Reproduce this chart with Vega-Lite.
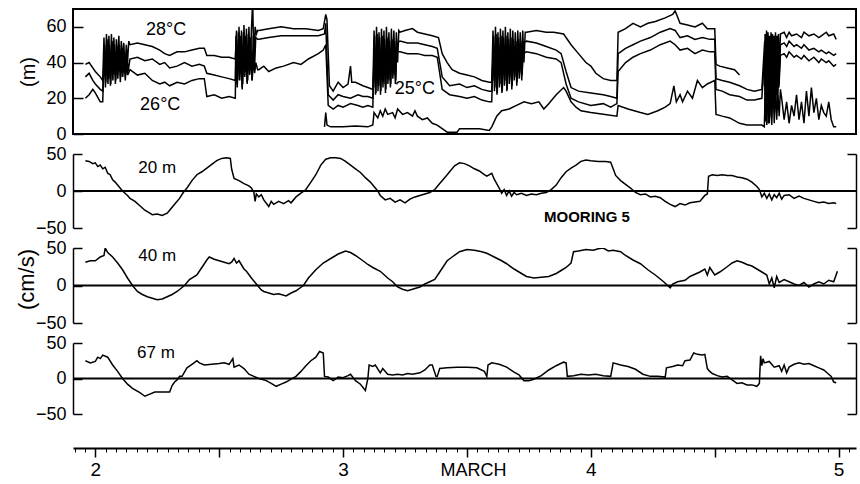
{
"$schema": "https://vega.github.io/schema/vega-lite/v6.json",
"background": "white",
"padding": {"left": 15, "top": 8, "right": 5, "bottom": 5},
"config": {
  "view": {"stroke": null},
  "font": "Liberation Sans",
  "axis": {"labelFont": "Liberation Sans", "titleFont": "Liberation Sans", "labelColor": "black", "titleColor": "black", "tickColor": "black", "domainColor": "black", "grid": false, "titleFontWeight": "normal"},
  "text": {"font": "Liberation Sans", "color": "black"}
},
"datasets": {
"isotherms": [
{"day":1.96,"iso":"28","h":39},{"day":1.975,"iso":"28","h":40},{"day":1.99,"iso":"28","h":37},{"day":2.0,"iso":"28","h":35},{"day":2.02,"iso":"28","h":32},
{"day":2.03,"iso":"28","h":30},{"day":2.035,"iso":"28","h":54},{"day":2.04,"iso":"28","h":33},{"day":2.045,"iso":"28","h":56},{"day":2.05,"iso":"28","h":36},{"day":2.055,"iso":"28","h":55},{"day":2.06,"iso":"28","h":31},{"day":2.065,"iso":"28","h":56},{"day":2.07,"iso":"28","h":38},{"day":2.075,"iso":"28","h":54},{"day":2.08,"iso":"28","h":33},{"day":2.085,"iso":"28","h":53},{"day":2.09,"iso":"28","h":40},{"day":2.095,"iso":"28","h":55},{"day":2.1,"iso":"28","h":35},{"day":2.105,"iso":"28","h":52},{"day":2.11,"iso":"28","h":42},{"day":2.115,"iso":"28","h":51},{"day":2.12,"iso":"28","h":36},{"day":2.125,"iso":"28","h":50},{"day":2.13,"iso":"28","h":40},{"day":2.135,"iso":"28","h":52},{"day":2.14,"iso":"28","h":50},
{"day":2.17,"iso":"28","h":51},{"day":2.2,"iso":"28","h":50},{"day":2.23,"iso":"28","h":49},{"day":2.26,"iso":"28","h":47},{"day":2.28,"iso":"28","h":45},{"day":2.3,"iso":"28","h":44},{"day":2.33,"iso":"28","h":46},{"day":2.36,"iso":"28","h":46},{"day":2.39,"iso":"28","h":47},{"day":2.42,"iso":"28","h":48},{"day":2.44,"iso":"28","h":48},{"day":2.45,"iso":"28","h":44},{"day":2.48,"iso":"28","h":44},{"day":2.51,"iso":"28","h":43},{"day":2.54,"iso":"28","h":43},
{"day":2.565,"iso":"28","h":42},{"day":2.57,"iso":"28","h":58},{"day":2.575,"iso":"28","h":30},{"day":2.58,"iso":"28","h":60},{"day":2.585,"iso":"28","h":34},{"day":2.59,"iso":"28","h":58},{"day":2.595,"iso":"28","h":28},{"day":2.6,"iso":"28","h":61},{"day":2.605,"iso":"28","h":35},{"day":2.61,"iso":"28","h":59},{"day":2.615,"iso":"28","h":30},{"day":2.62,"iso":"28","h":60},{"day":2.625,"iso":"28","h":36},{"day":2.63,"iso":"28","h":58},{"day":2.635,"iso":"28","h":74},{"day":2.64,"iso":"28","h":40},{"day":2.645,"iso":"28","h":60},{"day":2.65,"iso":"28","h":56},{"day":2.655,"iso":"28","h":58},
{"day":2.66,"iso":"28","h":58},{"day":2.7,"iso":"28","h":59},{"day":2.75,"iso":"28","h":60},{"day":2.8,"iso":"28","h":59},{"day":2.85,"iso":"28","h":59},{"day":2.9,"iso":"28","h":58},{"day":2.92,"iso":"28","h":59},{"day":2.93,"iso":"28","h":67},{"day":2.935,"iso":"28","h":64},{"day":2.94,"iso":"28","h":45},{"day":2.945,"iso":"28","h":27},
{"day":2.96,"iso":"28","h":24},{"day":2.98,"iso":"28","h":29},{"day":3.0,"iso":"28","h":26},{"day":3.02,"iso":"28","h":28},{"day":3.03,"iso":"28","h":38},{"day":3.035,"iso":"28","h":29},{"day":3.05,"iso":"28","h":29},{"day":3.08,"iso":"28","h":27},{"day":3.1,"iso":"28","h":26},
{"day":3.12,"iso":"28","h":25},{"day":3.125,"iso":"28","h":58},{"day":3.13,"iso":"28","h":26},{"day":3.135,"iso":"28","h":60},{"day":3.14,"iso":"28","h":30},{"day":3.145,"iso":"28","h":57},{"day":3.15,"iso":"28","h":27},{"day":3.155,"iso":"28","h":59},{"day":3.16,"iso":"28","h":32},{"day":3.165,"iso":"28","h":58},{"day":3.17,"iso":"28","h":28},{"day":3.175,"iso":"28","h":60},{"day":3.18,"iso":"28","h":34},{"day":3.185,"iso":"28","h":57},{"day":3.19,"iso":"28","h":30},{"day":3.195,"iso":"28","h":59},{"day":3.2,"iso":"28","h":36},{"day":3.205,"iso":"28","h":58},{"day":3.21,"iso":"28","h":33},{"day":3.215,"iso":"28","h":57},{"day":3.22,"iso":"28","h":40},{"day":3.225,"iso":"28","h":58},{"day":3.23,"iso":"28","h":57},
{"day":3.25,"iso":"28","h":58},{"day":3.28,"iso":"28","h":59},{"day":3.3,"iso":"28","h":57},{"day":3.33,"iso":"28","h":56},{"day":3.36,"iso":"28","h":55},{"day":3.385,"iso":"28","h":54},{"day":3.4,"iso":"28","h":45},{"day":3.42,"iso":"28","h":40},{"day":3.44,"iso":"28","h":36},{"day":3.47,"iso":"28","h":34},{"day":3.5,"iso":"28","h":33},{"day":3.53,"iso":"28","h":32},{"day":3.56,"iso":"28","h":30},{"day":3.59,"iso":"28","h":29},
{"day":3.6,"iso":"28","h":29},{"day":3.605,"iso":"28","h":58},{"day":3.61,"iso":"28","h":30},{"day":3.615,"iso":"28","h":60},{"day":3.62,"iso":"28","h":26},{"day":3.625,"iso":"28","h":57},{"day":3.63,"iso":"28","h":31},{"day":3.635,"iso":"28","h":59},{"day":3.64,"iso":"28","h":27},{"day":3.645,"iso":"28","h":58},{"day":3.65,"iso":"28","h":33},{"day":3.655,"iso":"28","h":60},{"day":3.66,"iso":"28","h":28},{"day":3.665,"iso":"28","h":57},{"day":3.67,"iso":"28","h":34},{"day":3.675,"iso":"28","h":59},{"day":3.68,"iso":"28","h":30},{"day":3.685,"iso":"28","h":58},{"day":3.69,"iso":"28","h":35},{"day":3.695,"iso":"28","h":57},{"day":3.7,"iso":"28","h":32},{"day":3.705,"iso":"28","h":58},{"day":3.71,"iso":"28","h":38},{"day":3.715,"iso":"28","h":57},{"day":3.72,"iso":"28","h":36},{"day":3.725,"iso":"28","h":58},{"day":3.73,"iso":"28","h":40},{"day":3.735,"iso":"28","h":57},{"day":3.74,"iso":"28","h":57},
{"day":3.78,"iso":"28","h":58},{"day":3.82,"iso":"28","h":57},{"day":3.85,"iso":"28","h":57},{"day":3.89,"iso":"28","h":56},{"day":3.92,"iso":"28","h":50},{"day":3.95,"iso":"28","h":45},{"day":3.98,"iso":"28","h":40},{"day":4.0,"iso":"28","h":38},{"day":4.02,"iso":"28","h":34},{"day":4.05,"iso":"28","h":31},{"day":4.08,"iso":"28","h":30},{"day":4.105,"iso":"28","h":30},
{"day":4.11,"iso":"28","h":57},{"day":4.14,"iso":"28","h":59},{"day":4.17,"iso":"28","h":62},{"day":4.2,"iso":"28","h":60},{"day":4.23,"iso":"28","h":62},{"day":4.26,"iso":"28","h":63},{"day":4.3,"iso":"28","h":65},{"day":4.33,"iso":"28","h":67},{"day":4.34,"iso":"28","h":69},{"day":4.36,"iso":"28","h":62},{"day":4.39,"iso":"28","h":61},{"day":4.42,"iso":"28","h":60},{"day":4.45,"iso":"28","h":62},{"day":4.47,"iso":"28","h":59},{"day":4.5,"iso":"28","h":59},
{"day":4.505,"iso":"28","h":39},{"day":4.52,"iso":"28","h":38},{"day":4.55,"iso":"28","h":37},{"day":4.58,"iso":"28","h":36},{"day":4.6,"iso":"28","h":33},{"day":4.65,"iso":"28","h":null},
{"day":4.7,"iso":"28","h":27},{"day":4.703,"iso":"28","h":56},{"day":4.706,"iso":"28","h":10},{"day":4.709,"iso":"28","h":58},{"day":4.712,"iso":"28","h":15},{"day":4.715,"iso":"28","h":57},{"day":4.718,"iso":"28","h":8},{"day":4.721,"iso":"28","h":55},{"day":4.724,"iso":"28","h":20},{"day":4.727,"iso":"28","h":57},{"day":4.73,"iso":"28","h":12},{"day":4.733,"iso":"28","h":56},{"day":4.736,"iso":"28","h":25},{"day":4.739,"iso":"28","h":55},{"day":4.742,"iso":"28","h":18},{"day":4.745,"iso":"28","h":57},{"day":4.748,"iso":"28","h":30},{"day":4.751,"iso":"28","h":55},{"day":4.754,"iso":"28","h":22},{"day":4.757,"iso":"28","h":56},{"day":4.76,"iso":"28","h":35},{"day":4.765,"iso":"28","h":56},
{"day":4.78,"iso":"28","h":57},{"day":4.79,"iso":"28","h":54},{"day":4.8,"iso":"28","h":57},{"day":4.81,"iso":"28","h":55},{"day":4.83,"iso":"28","h":56},{"day":4.85,"iso":"28","h":54},{"day":4.86,"iso":"28","h":57},{"day":4.88,"iso":"28","h":55},{"day":4.9,"iso":"28","h":56},{"day":4.92,"iso":"28","h":54},{"day":4.93,"iso":"28","h":55},{"day":4.95,"iso":"28","h":57},{"day":4.96,"iso":"28","h":55},{"day":4.98,"iso":"28","h":56},{"day":4.99,"iso":"28","h":53},

{"day":1.96,"iso":"27","h":32},{"day":1.975,"iso":"27","h":34},{"day":1.99,"iso":"27","h":30},{"day":2.0,"iso":"27","h":28},{"day":2.02,"iso":"27","h":25},
{"day":2.03,"iso":"27","h":24},{"day":2.0375,"iso":"27","h":50},{"day":2.0425,"iso":"27","h":29},{"day":2.0475,"iso":"27","h":53},{"day":2.0525,"iso":"27","h":31},{"day":2.0575,"iso":"27","h":50},{"day":2.0625,"iso":"27","h":28},{"day":2.0675,"iso":"27","h":52},{"day":2.0725,"iso":"27","h":34},{"day":2.0775,"iso":"27","h":50},{"day":2.0825,"iso":"27","h":30},{"day":2.0875,"iso":"27","h":49},{"day":2.0925,"iso":"27","h":36},{"day":2.0975,"iso":"27","h":50},{"day":2.1025,"iso":"27","h":32},{"day":2.1075,"iso":"27","h":47},{"day":2.1125,"iso":"27","h":37},{"day":2.1175,"iso":"27","h":46},{"day":2.1225,"iso":"27","h":33},{"day":2.1275,"iso":"27","h":45},{"day":2.1325,"iso":"27","h":35},{"day":2.14,"iso":"27","h":42},
{"day":2.17,"iso":"27","h":43},{"day":2.2,"iso":"27","h":41},{"day":2.23,"iso":"27","h":42},{"day":2.26,"iso":"27","h":39},{"day":2.28,"iso":"27","h":40},{"day":2.3,"iso":"27","h":37},{"day":2.33,"iso":"27","h":38},{"day":2.36,"iso":"27","h":40},{"day":2.39,"iso":"27","h":38},{"day":2.42,"iso":"27","h":39},{"day":2.44,"iso":"27","h":38},{"day":2.45,"iso":"27","h":34},{"day":2.48,"iso":"27","h":33},{"day":2.51,"iso":"27","h":32},{"day":2.54,"iso":"27","h":31},
{"day":2.565,"iso":"27","h":30},{"day":2.5675,"iso":"27","h":55},{"day":2.5725,"iso":"27","h":28},{"day":2.5775,"iso":"27","h":57},{"day":2.5825,"iso":"27","h":32},{"day":2.5875,"iso":"27","h":55},{"day":2.5925,"iso":"27","h":26},{"day":2.5975,"iso":"27","h":57},{"day":2.6025,"iso":"27","h":33},{"day":2.6075,"iso":"27","h":55},{"day":2.6125,"iso":"27","h":29},{"day":2.6175,"iso":"27","h":56},{"day":2.6225,"iso":"27","h":34},{"day":2.6275,"iso":"27","h":54},{"day":2.6325,"iso":"27","h":30},{"day":2.6375,"iso":"27","h":55},{"day":2.6425,"iso":"27","h":36},{"day":2.6475,"iso":"27","h":54},{"day":2.655,"iso":"27","h":53},
{"day":2.66,"iso":"27","h":53},{"day":2.7,"iso":"27","h":54},{"day":2.75,"iso":"27","h":55},{"day":2.8,"iso":"27","h":55},{"day":2.85,"iso":"27","h":55},{"day":2.9,"iso":"27","h":55},{"day":2.925,"iso":"27","h":56},{"day":2.93,"iso":"27","h":62},{"day":2.94,"iso":"27","h":22},
{"day":2.96,"iso":"27","h":19},{"day":2.98,"iso":"27","h":22},{"day":3.0,"iso":"27","h":21},{"day":3.03,"iso":"27","h":20},{"day":3.06,"iso":"27","h":22},{"day":3.08,"iso":"27","h":21},{"day":3.1,"iso":"27","h":21},
{"day":3.12,"iso":"27","h":20},{"day":3.1275,"iso":"27","h":55},{"day":3.1325,"iso":"27","h":23},{"day":3.1375,"iso":"27","h":56},{"day":3.1425,"iso":"27","h":27},{"day":3.1475,"iso":"27","h":54},{"day":3.1525,"iso":"27","h":24},{"day":3.1575,"iso":"27","h":55},{"day":3.1625,"iso":"27","h":29},{"day":3.1675,"iso":"27","h":53},{"day":3.1725,"iso":"27","h":25},{"day":3.1775,"iso":"27","h":54},{"day":3.1825,"iso":"27","h":31},{"day":3.1875,"iso":"27","h":52},{"day":3.1925,"iso":"27","h":28},{"day":3.1975,"iso":"27","h":53},{"day":3.2025,"iso":"27","h":34},{"day":3.2075,"iso":"27","h":52},{"day":3.2125,"iso":"27","h":30},{"day":3.2175,"iso":"27","h":51},{"day":3.23,"iso":"27","h":52},
{"day":3.26,"iso":"27","h":51},{"day":3.3,"iso":"27","h":51},{"day":3.33,"iso":"27","h":50},{"day":3.36,"iso":"27","h":49},{"day":3.38,"iso":"27","h":48},{"day":3.4,"iso":"27","h":32},{"day":3.43,"iso":"27","h":27},{"day":3.47,"iso":"27","h":28},{"day":3.5,"iso":"27","h":26},{"day":3.53,"iso":"27","h":27},{"day":3.56,"iso":"27","h":25},{"day":3.59,"iso":"27","h":24},
{"day":3.6,"iso":"27","h":24},{"day":3.6075,"iso":"27","h":55},{"day":3.6125,"iso":"27","h":26},{"day":3.6175,"iso":"27","h":56},{"day":3.6225,"iso":"27","h":23},{"day":3.6275,"iso":"27","h":54},{"day":3.6325,"iso":"27","h":28},{"day":3.6375,"iso":"27","h":55},{"day":3.6425,"iso":"27","h":24},{"day":3.6475,"iso":"27","h":54},{"day":3.6525,"iso":"27","h":30},{"day":3.6575,"iso":"27","h":55},{"day":3.6625,"iso":"27","h":25},{"day":3.6675,"iso":"27","h":53},{"day":3.6725,"iso":"27","h":31},{"day":3.6775,"iso":"27","h":54},{"day":3.6825,"iso":"27","h":27},{"day":3.6875,"iso":"27","h":53},{"day":3.6925,"iso":"27","h":32},{"day":3.6975,"iso":"27","h":52},{"day":3.7025,"iso":"27","h":29},{"day":3.7075,"iso":"27","h":53},{"day":3.7125,"iso":"27","h":34},{"day":3.7175,"iso":"27","h":52},{"day":3.7225,"iso":"27","h":33},{"day":3.7275,"iso":"27","h":51},{"day":3.74,"iso":"27","h":52},
{"day":3.78,"iso":"27","h":51},{"day":3.82,"iso":"27","h":49},{"day":3.86,"iso":"27","h":47},{"day":3.88,"iso":"27","h":45},{"day":3.9,"iso":"27","h":35},{"day":3.92,"iso":"27","h":26},{"day":3.95,"iso":"27","h":24},{"day":4.0,"iso":"27","h":23},{"day":4.05,"iso":"27","h":22},{"day":4.08,"iso":"27","h":21},{"day":4.105,"iso":"27","h":20},
{"day":4.11,"iso":"27","h":45},{"day":4.14,"iso":"27","h":48},{"day":4.17,"iso":"27","h":50},{"day":4.2,"iso":"27","h":52},{"day":4.24,"iso":"27","h":54},{"day":4.28,"iso":"27","h":57},{"day":4.32,"iso":"27","h":59},{"day":4.34,"iso":"27","h":58},{"day":4.36,"iso":"27","h":54},{"day":4.39,"iso":"27","h":55},{"day":4.42,"iso":"27","h":53},{"day":4.45,"iso":"27","h":54},{"day":4.48,"iso":"27","h":53},{"day":4.5,"iso":"27","h":53},
{"day":4.505,"iso":"27","h":31},{"day":4.53,"iso":"27","h":30},{"day":4.56,"iso":"27","h":29},{"day":4.6,"iso":"27","h":27},{"day":4.63,"iso":"27","h":25},{"day":4.66,"iso":"27","h":24},{"day":4.69,"iso":"27","h":25},
{"day":4.7015,"iso":"27","h":52},{"day":4.7045,"iso":"27","h":8},{"day":4.7075,"iso":"27","h":54},{"day":4.7105,"iso":"27","h":12},{"day":4.7135,"iso":"27","h":52},{"day":4.7165,"iso":"27","h":6},{"day":4.7195,"iso":"27","h":53},{"day":4.7225,"iso":"27","h":16},{"day":4.7255,"iso":"27","h":51},{"day":4.7285,"iso":"27","h":10},{"day":4.7315,"iso":"27","h":52},{"day":4.7345,"iso":"27","h":20},{"day":4.7375,"iso":"27","h":50},{"day":4.7405,"iso":"27","h":14},{"day":4.7435,"iso":"27","h":51},{"day":4.7465,"iso":"27","h":24},{"day":4.7495,"iso":"27","h":50},{"day":4.7525,"iso":"27","h":18},{"day":4.7555,"iso":"27","h":50},{"day":4.7585,"iso":"27","h":28},{"day":4.765,"iso":"27","h":50},
{"day":4.78,"iso":"27","h":51},{"day":4.79,"iso":"27","h":49},{"day":4.8,"iso":"27","h":52},{"day":4.82,"iso":"27","h":49},{"day":4.83,"iso":"27","h":50},{"day":4.85,"iso":"27","h":48},{"day":4.86,"iso":"27","h":50},{"day":4.88,"iso":"27","h":47},{"day":4.9,"iso":"27","h":48},{"day":4.92,"iso":"27","h":46},{"day":4.93,"iso":"27","h":47},{"day":4.95,"iso":"27","h":45},{"day":4.96,"iso":"27","h":46},{"day":4.98,"iso":"27","h":44},{"day":4.99,"iso":"27","h":45},

{"day":1.96,"iso":"26","h":20},{"day":1.975,"iso":"26","h":22},{"day":1.99,"iso":"26","h":25},{"day":2.0,"iso":"26","h":23},{"day":2.02,"iso":"26","h":18},
{"day":2.03,"iso":"26","h":18},{"day":2.036,"iso":"26","h":46},{"day":2.041,"iso":"26","h":26},{"day":2.046,"iso":"26","h":48},{"day":2.051,"iso":"26","h":28},{"day":2.056,"iso":"26","h":45},{"day":2.061,"iso":"26","h":27},{"day":2.066,"iso":"26","h":47},{"day":2.071,"iso":"26","h":30},{"day":2.076,"iso":"26","h":46},{"day":2.081,"iso":"26","h":28},{"day":2.086,"iso":"26","h":44},{"day":2.091,"iso":"26","h":31},{"day":2.096,"iso":"26","h":45},{"day":2.101,"iso":"26","h":29},{"day":2.106,"iso":"26","h":42},{"day":2.111,"iso":"26","h":32},{"day":2.116,"iso":"26","h":41},{"day":2.121,"iso":"26","h":30},{"day":2.126,"iso":"26","h":40},{"day":2.131,"iso":"26","h":33},{"day":2.14,"iso":"26","h":36},
{"day":2.17,"iso":"26","h":33},{"day":2.2,"iso":"26","h":34},{"day":2.23,"iso":"26","h":30},{"day":2.26,"iso":"26","h":28},{"day":2.28,"iso":"26","h":29},{"day":2.3,"iso":"26","h":27},{"day":2.33,"iso":"26","h":29},{"day":2.36,"iso":"26","h":28},{"day":2.39,"iso":"26","h":30},{"day":2.42,"iso":"26","h":31},{"day":2.44,"iso":"26","h":31},{"day":2.45,"iso":"26","h":21},{"day":2.48,"iso":"26","h":22},{"day":2.51,"iso":"26","h":20},{"day":2.54,"iso":"26","h":21},
{"day":2.565,"iso":"26","h":20},{"day":2.568,"iso":"26","h":50},{"day":2.573,"iso":"26","h":26},{"day":2.578,"iso":"26","h":52},{"day":2.583,"iso":"26","h":30},{"day":2.588,"iso":"26","h":48},{"day":2.593,"iso":"26","h":25},{"day":2.598,"iso":"26","h":50},{"day":2.603,"iso":"26","h":32},{"day":2.608,"iso":"26","h":46},{"day":2.613,"iso":"26","h":28},{"day":2.618,"iso":"26","h":48},{"day":2.623,"iso":"26","h":33},{"day":2.628,"iso":"26","h":44},{"day":2.633,"iso":"26","h":30},{"day":2.638,"iso":"26","h":42},{"day":2.643,"iso":"26","h":34},{"day":2.648,"iso":"26","h":40},{"day":2.655,"iso":"26","h":36},
{"day":2.66,"iso":"26","h":36},{"day":2.68,"iso":"26","h":38},{"day":2.7,"iso":"26","h":35},{"day":2.73,"iso":"26","h":37},{"day":2.76,"iso":"26","h":38},{"day":2.8,"iso":"26","h":40},{"day":2.83,"iso":"26","h":39},{"day":2.86,"iso":"26","h":42},{"day":2.9,"iso":"26","h":45},{"day":2.92,"iso":"26","h":47},{"day":2.93,"iso":"26","h":50},{"day":2.94,"iso":"26","h":16},
{"day":2.96,"iso":"26","h":14},{"day":2.98,"iso":"26","h":16},{"day":3.0,"iso":"26","h":15},{"day":3.03,"iso":"26","h":17},{"day":3.06,"iso":"26","h":16},{"day":3.08,"iso":"26","h":15},{"day":3.1,"iso":"26","h":16},
{"day":3.12,"iso":"26","h":15},{"day":3.126,"iso":"26","h":50},{"day":3.131,"iso":"26","h":22},{"day":3.136,"iso":"26","h":51},{"day":3.141,"iso":"26","h":24},{"day":3.146,"iso":"26","h":49},{"day":3.151,"iso":"26","h":22},{"day":3.156,"iso":"26","h":50},{"day":3.161,"iso":"26","h":26},{"day":3.166,"iso":"26","h":48},{"day":3.171,"iso":"26","h":23},{"day":3.176,"iso":"26","h":49},{"day":3.181,"iso":"26","h":28},{"day":3.186,"iso":"26","h":47},{"day":3.191,"iso":"26","h":26},{"day":3.196,"iso":"26","h":48},{"day":3.201,"iso":"26","h":31},{"day":3.206,"iso":"26","h":47},{"day":3.211,"iso":"26","h":28},{"day":3.216,"iso":"26","h":46},{"day":3.23,"iso":"26","h":46},
{"day":3.26,"iso":"26","h":45},{"day":3.3,"iso":"26","h":45},{"day":3.33,"iso":"26","h":44},{"day":3.36,"iso":"26","h":44},{"day":3.38,"iso":"26","h":43},{"day":3.4,"iso":"26","h":25},{"day":3.43,"iso":"26","h":22},{"day":3.47,"iso":"26","h":21},{"day":3.5,"iso":"26","h":20},{"day":3.53,"iso":"26","h":21},{"day":3.56,"iso":"26","h":19},{"day":3.59,"iso":"26","h":18},
{"day":3.6,"iso":"26","h":18},{"day":3.606,"iso":"26","h":50},{"day":3.611,"iso":"26","h":24},{"day":3.616,"iso":"26","h":51},{"day":3.621,"iso":"26","h":22},{"day":3.626,"iso":"26","h":49},{"day":3.631,"iso":"26","h":26},{"day":3.636,"iso":"26","h":50},{"day":3.641,"iso":"26","h":23},{"day":3.646,"iso":"26","h":48},{"day":3.651,"iso":"26","h":27},{"day":3.656,"iso":"26","h":50},{"day":3.661,"iso":"26","h":24},{"day":3.666,"iso":"26","h":47},{"day":3.671,"iso":"26","h":28},{"day":3.676,"iso":"26","h":48},{"day":3.681,"iso":"26","h":25},{"day":3.686,"iso":"26","h":47},{"day":3.691,"iso":"26","h":30},{"day":3.696,"iso":"26","h":47},{"day":3.701,"iso":"26","h":27},{"day":3.706,"iso":"26","h":46},{"day":3.711,"iso":"26","h":31},{"day":3.716,"iso":"26","h":46},{"day":3.721,"iso":"26","h":30},{"day":3.726,"iso":"26","h":45},{"day":3.74,"iso":"26","h":46},
{"day":3.78,"iso":"26","h":45},{"day":3.82,"iso":"26","h":43},{"day":3.86,"iso":"26","h":42},{"day":3.88,"iso":"26","h":40},{"day":3.9,"iso":"26","h":28},{"day":3.92,"iso":"26","h":20},{"day":3.95,"iso":"26","h":18},{"day":4.0,"iso":"26","h":16},{"day":4.05,"iso":"26","h":17},{"day":4.08,"iso":"26","h":15},{"day":4.105,"iso":"26","h":17},
{"day":4.11,"iso":"26","h":35},{"day":4.14,"iso":"26","h":40},{"day":4.17,"iso":"26","h":43},{"day":4.2,"iso":"26","h":45},{"day":4.24,"iso":"26","h":47},{"day":4.28,"iso":"26","h":50},{"day":4.32,"iso":"26","h":52},{"day":4.34,"iso":"26","h":50},{"day":4.36,"iso":"26","h":47},{"day":4.39,"iso":"26","h":48},{"day":4.42,"iso":"26","h":45},{"day":4.45,"iso":"26","h":47},{"day":4.48,"iso":"26","h":46},{"day":4.5,"iso":"26","h":46},
{"day":4.505,"iso":"26","h":25},{"day":4.53,"iso":"26","h":24},{"day":4.56,"iso":"26","h":22},{"day":4.6,"iso":"26","h":21},{"day":4.63,"iso":"26","h":19},{"day":4.66,"iso":"26","h":19},{"day":4.69,"iso":"26","h":20},
{"day":4.702,"iso":"26","h":46},{"day":4.705,"iso":"26","h":7},{"day":4.708,"iso":"26","h":48},{"day":4.711,"iso":"26","h":11},{"day":4.714,"iso":"26","h":46},{"day":4.717,"iso":"26","h":6},{"day":4.72,"iso":"26","h":47},{"day":4.723,"iso":"26","h":14},{"day":4.726,"iso":"26","h":45},{"day":4.729,"iso":"26","h":9},{"day":4.732,"iso":"26","h":46},{"day":4.735,"iso":"26","h":18},{"day":4.738,"iso":"26","h":44},{"day":4.741,"iso":"26","h":12},{"day":4.744,"iso":"26","h":45},{"day":4.747,"iso":"26","h":22},{"day":4.75,"iso":"26","h":44},{"day":4.753,"iso":"26","h":16},{"day":4.756,"iso":"26","h":43},{"day":4.759,"iso":"26","h":26},{"day":4.765,"iso":"26","h":44},
{"day":4.78,"iso":"26","h":45},{"day":4.79,"iso":"26","h":43},{"day":4.8,"iso":"26","h":46},{"day":4.82,"iso":"26","h":43},{"day":4.83,"iso":"26","h":44},{"day":4.85,"iso":"26","h":42},{"day":4.86,"iso":"26","h":44},{"day":4.88,"iso":"26","h":41},{"day":4.9,"iso":"26","h":43},{"day":4.92,"iso":"26","h":40},{"day":4.93,"iso":"26","h":42},{"day":4.95,"iso":"26","h":40},{"day":4.96,"iso":"26","h":41},{"day":4.98,"iso":"26","h":38},{"day":4.99,"iso":"26","h":39},

{"day":2.925,"iso":"25","h":4},{"day":2.93,"iso":"25","h":12},{"day":2.935,"iso":"25","h":5},{"day":2.95,"iso":"25","h":4},{"day":3.0,"iso":"25","h":4},{"day":3.05,"iso":"25","h":4.5},{"day":3.1,"iso":"25","h":4},{"day":3.12,"iso":"25","h":5},{"day":3.125,"iso":"25","h":12},{"day":3.14,"iso":"25","h":9},{"day":3.15,"iso":"25","h":13},{"day":3.16,"iso":"25","h":10},{"day":3.17,"iso":"25","h":14},{"day":3.18,"iso":"25","h":11},{"day":3.2,"iso":"25","h":12},{"day":3.21,"iso":"25","h":9},{"day":3.22,"iso":"25","h":14},{"day":3.24,"iso":"25","h":11},{"day":3.26,"iso":"25","h":12},{"day":3.28,"iso":"25","h":10},{"day":3.29,"iso":"25","h":13},{"day":3.3,"iso":"25","h":10},{"day":3.32,"iso":"25","h":8},{"day":3.34,"iso":"25","h":9},{"day":3.36,"iso":"25","h":6},{"day":3.38,"iso":"25","h":5},{"day":3.4,"iso":"25","h":3},{"day":3.42,"iso":"25","h":1},{"day":3.44,"iso":"25","h":1},{"day":3.46,"iso":"25","h":1},{"day":3.47,"iso":"25","h":3},{"day":3.5,"iso":"25","h":3},{"day":3.55,"iso":"25","h":3},{"day":3.59,"iso":"25","h":2},{"day":3.6,"iso":"25","h":4},{"day":3.62,"iso":"25","h":10},{"day":3.64,"iso":"25","h":13},{"day":3.67,"iso":"25","h":14},{"day":3.7,"iso":"25","h":16},{"day":3.73,"iso":"25","h":18},{"day":3.76,"iso":"25","h":17},{"day":3.79,"iso":"25","h":18},{"day":3.81,"iso":"25","h":14},{"day":3.83,"iso":"25","h":17},{"day":3.86,"iso":"25","h":22},{"day":3.89,"iso":"25","h":26},{"day":3.9,"iso":"25","h":24},{"day":3.92,"iso":"25","h":18},{"day":3.94,"iso":"25","h":15},{"day":3.96,"iso":"25","h":13},{"day":4.0,"iso":"25","h":12},{"day":4.05,"iso":"25","h":11},{"day":4.105,"iso":"25","h":10},
{"day":4.11,"iso":"25","h":16},{"day":4.15,"iso":"25","h":14},{"day":4.2,"iso":"25","h":12},{"day":4.23,"iso":"25","h":11},{"day":4.27,"iso":"25","h":13},{"day":4.3,"iso":"25","h":15},{"day":4.32,"iso":"25","h":17},{"day":4.335,"iso":"25","h":27},{"day":4.345,"iso":"25","h":18},{"day":4.36,"iso":"25","h":22},{"day":4.37,"iso":"25","h":18},{"day":4.39,"iso":"25","h":24},{"day":4.41,"iso":"25","h":20},{"day":4.43,"iso":"25","h":30},{"day":4.45,"iso":"25","h":26},{"day":4.47,"iso":"25","h":28},{"day":4.5,"iso":"25","h":30},
{"day":4.505,"iso":"25","h":11},{"day":4.53,"iso":"25","h":10},{"day":4.56,"iso":"25","h":9},{"day":4.6,"iso":"25","h":6},{"day":4.63,"iso":"25","h":5},{"day":4.66,"iso":"25","h":5},{"day":4.69,"iso":"25","h":5},
{"day":4.7,"iso":"25","h":4},{"day":4.705,"iso":"25","h":30},{"day":4.71,"iso":"25","h":5},{"day":4.715,"iso":"25","h":28},{"day":4.72,"iso":"25","h":6},{"day":4.725,"iso":"25","h":25},{"day":4.73,"iso":"25","h":5},{"day":4.735,"iso":"25","h":30},{"day":4.74,"iso":"25","h":6},{"day":4.745,"iso":"25","h":26},{"day":4.75,"iso":"25","h":8},{"day":4.755,"iso":"25","h":22},{"day":4.76,"iso":"25","h":10},{"day":4.765,"iso":"25","h":25},
{"day":4.77,"iso":"25","h":20},{"day":4.78,"iso":"25","h":8},{"day":4.79,"iso":"25","h":18},{"day":4.8,"iso":"25","h":6},{"day":4.81,"iso":"25","h":16},{"day":4.82,"iso":"25","h":10},{"day":4.83,"iso":"25","h":22},{"day":4.84,"iso":"25","h":8},{"day":4.85,"iso":"25","h":18},{"day":4.86,"iso":"25","h":6},{"day":4.87,"iso":"25","h":24},{"day":4.88,"iso":"25","h":10},{"day":4.89,"iso":"25","h":26},{"day":4.9,"iso":"25","h":12},{"day":4.91,"iso":"25","h":20},{"day":4.92,"iso":"25","h":8},{"day":4.93,"iso":"25","h":16},{"day":4.94,"iso":"25","h":12},{"day":4.95,"iso":"25","h":10},{"day":4.96,"iso":"25","h":18},{"day":4.97,"iso":"25","h":8},{"day":4.98,"iso":"25","h":4},{"day":4.99,"iso":"25","h":4}
],
"velocity": [
{"day":1.96,"depth":"20 m","v":41},{"day":1.975,"depth":"20 m","v":40},{"day":1.99,"depth":"20 m","v":37},{"day":2.0,"depth":"20 m","v":38},{"day":2.01,"depth":"20 m","v":33},{"day":2.02,"depth":"20 m","v":35},{"day":2.03,"depth":"20 m","v":30},{"day":2.04,"depth":"20 m","v":32},{"day":2.05,"depth":"20 m","v":24},{"day":2.06,"depth":"20 m","v":22},{"day":2.07,"depth":"20 m","v":15},{"day":2.08,"depth":"20 m","v":12},{"day":2.09,"depth":"20 m","v":8},{"day":2.1,"depth":"20 m","v":4},{"day":2.11,"depth":"20 m","v":0},{"day":2.12,"depth":"20 m","v":-3},{"day":2.13,"depth":"20 m","v":-6},{"day":2.14,"depth":"20 m","v":-10},{"day":2.16,"depth":"20 m","v":-14},{"day":2.18,"depth":"20 m","v":-20},{"day":2.2,"depth":"20 m","v":-26},{"day":2.22,"depth":"20 m","v":-30},{"day":2.23,"depth":"20 m","v":-32},{"day":2.25,"depth":"20 m","v":-31},{"day":2.27,"depth":"20 m","v":-33},{"day":2.29,"depth":"20 m","v":-30},{"day":2.3,"depth":"20 m","v":-26},{"day":2.32,"depth":"20 m","v":-18},{"day":2.34,"depth":"20 m","v":-10},{"day":2.355,"depth":"20 m","v":-2},{"day":2.37,"depth":"20 m","v":4},{"day":2.39,"depth":"20 m","v":14},{"day":2.41,"depth":"20 m","v":22},{"day":2.43,"depth":"20 m","v":26},{"day":2.45,"depth":"20 m","v":31},{"day":2.47,"depth":"20 m","v":36},{"day":2.49,"depth":"20 m","v":41},{"day":2.51,"depth":"20 m","v":44},{"day":2.53,"depth":"20 m","v":45},{"day":2.545,"depth":"20 m","v":44},{"day":2.55,"depth":"20 m","v":30},{"day":2.56,"depth":"20 m","v":17},{"day":2.58,"depth":"20 m","v":14},{"day":2.6,"depth":"20 m","v":10},{"day":2.62,"depth":"20 m","v":7},{"day":2.63,"depth":"20 m","v":4},{"day":2.64,"depth":"20 m","v":-2},{"day":2.645,"depth":"20 m","v":-14},{"day":2.65,"depth":"20 m","v":-4},{"day":2.66,"depth":"20 m","v":-8},{"day":2.67,"depth":"20 m","v":-5},{"day":2.68,"depth":"20 m","v":-12},{"day":2.7,"depth":"20 m","v":-21},{"day":2.71,"depth":"20 m","v":-14},{"day":2.72,"depth":"20 m","v":-18},{"day":2.74,"depth":"20 m","v":-14},{"day":2.76,"depth":"20 m","v":-17},{"day":2.78,"depth":"20 m","v":-13},{"day":2.79,"depth":"20 m","v":-16},{"day":2.81,"depth":"20 m","v":-8},{"day":2.83,"depth":"20 m","v":-3},{"day":2.85,"depth":"20 m","v":2},{"day":2.87,"depth":"20 m","v":12},{"day":2.89,"depth":"20 m","v":22},{"day":2.91,"depth":"20 m","v":35},{"day":2.93,"depth":"20 m","v":43},{"day":2.95,"depth":"20 m","v":45},{"day":2.97,"depth":"20 m","v":45},{"day":2.99,"depth":"20 m","v":44},{"day":3.01,"depth":"20 m","v":40},{"day":3.03,"depth":"20 m","v":35},{"day":3.05,"depth":"20 m","v":30},{"day":3.07,"depth":"20 m","v":25},{"day":3.09,"depth":"20 m","v":18},{"day":3.11,"depth":"20 m","v":12},{"day":3.13,"depth":"20 m","v":4},{"day":3.14,"depth":"20 m","v":0},{"day":3.15,"depth":"20 m","v":-6},{"day":3.17,"depth":"20 m","v":-12},{"day":3.19,"depth":"20 m","v":-10},{"day":3.21,"depth":"20 m","v":-15},{"day":3.23,"depth":"20 m","v":-12},{"day":3.25,"depth":"20 m","v":-16},{"day":3.27,"depth":"20 m","v":-11},{"day":3.29,"depth":"20 m","v":-8},{"day":3.31,"depth":"20 m","v":-6},{"day":3.33,"depth":"20 m","v":-4},{"day":3.35,"depth":"20 m","v":-2},{"day":3.37,"depth":"20 m","v":2},{"day":3.39,"depth":"20 m","v":10},{"day":3.41,"depth":"20 m","v":18},{"day":3.43,"depth":"20 m","v":26},{"day":3.45,"depth":"20 m","v":34},{"day":3.47,"depth":"20 m","v":38},{"day":3.49,"depth":"20 m","v":37},{"day":3.51,"depth":"20 m","v":34},{"day":3.53,"depth":"20 m","v":30},{"day":3.55,"depth":"20 m","v":27},{"day":3.57,"depth":"20 m","v":22},{"day":3.58,"depth":"20 m","v":20},{"day":3.6,"depth":"20 m","v":24},{"day":3.61,"depth":"20 m","v":16},{"day":3.62,"depth":"20 m","v":10},{"day":3.63,"depth":"20 m","v":4},{"day":3.64,"depth":"20 m","v":-3},{"day":3.65,"depth":"20 m","v":2},{"day":3.66,"depth":"20 m","v":-6},{"day":3.67,"depth":"20 m","v":0},{"day":3.68,"depth":"20 m","v":-7},{"day":3.69,"depth":"20 m","v":-2},{"day":3.7,"depth":"20 m","v":-5},{"day":3.72,"depth":"20 m","v":-3},{"day":3.74,"depth":"20 m","v":-6},{"day":3.76,"depth":"20 m","v":-4},{"day":3.78,"depth":"20 m","v":-5},{"day":3.8,"depth":"20 m","v":-3},{"day":3.82,"depth":"20 m","v":-2},{"day":3.84,"depth":"20 m","v":2},{"day":3.86,"depth":"20 m","v":8},{"day":3.88,"depth":"20 m","v":18},{"day":3.9,"depth":"20 m","v":26},{"day":3.92,"depth":"20 m","v":31},{"day":3.94,"depth":"20 m","v":35},{"day":3.96,"depth":"20 m","v":40},{"day":3.98,"depth":"20 m","v":42},{"day":4.0,"depth":"20 m","v":41},{"day":4.03,"depth":"20 m","v":40},{"day":4.06,"depth":"20 m","v":40},{"day":4.08,"depth":"20 m","v":39},{"day":4.09,"depth":"20 m","v":30},{"day":4.1,"depth":"20 m","v":21},{"day":4.12,"depth":"20 m","v":14},{"day":4.14,"depth":"20 m","v":9},{"day":4.16,"depth":"20 m","v":4},{"day":4.18,"depth":"20 m","v":-2},{"day":4.2,"depth":"20 m","v":-5},{"day":4.22,"depth":"20 m","v":-4},{"day":4.24,"depth":"20 m","v":-8},{"day":4.26,"depth":"20 m","v":-7},{"day":4.28,"depth":"20 m","v":-9},{"day":4.3,"depth":"20 m","v":-14},{"day":4.32,"depth":"20 m","v":-18},{"day":4.34,"depth":"20 m","v":-21},{"day":4.36,"depth":"20 m","v":-17},{"day":4.38,"depth":"20 m","v":-19},{"day":4.4,"depth":"20 m","v":-16},{"day":4.42,"depth":"20 m","v":-15},{"day":4.44,"depth":"20 m","v":-14},{"day":4.46,"depth":"20 m","v":-6},{"day":4.47,"depth":"20 m","v":-4},{"day":4.475,"depth":"20 m","v":20},{"day":4.49,"depth":"20 m","v":22},{"day":4.51,"depth":"20 m","v":21},{"day":4.53,"depth":"20 m","v":22},{"day":4.55,"depth":"20 m","v":21},{"day":4.57,"depth":"20 m","v":21},{"day":4.59,"depth":"20 m","v":19},{"day":4.61,"depth":"20 m","v":18},{"day":4.63,"depth":"20 m","v":16},{"day":4.65,"depth":"20 m","v":12},{"day":4.67,"depth":"20 m","v":6},{"day":4.68,"depth":"20 m","v":2},{"day":4.69,"depth":"20 m","v":-8},{"day":4.7,"depth":"20 m","v":-3},{"day":4.71,"depth":"20 m","v":-10},{"day":4.72,"depth":"20 m","v":-4},{"day":4.73,"depth":"20 m","v":-12},{"day":4.74,"depth":"20 m","v":-5},{"day":4.75,"depth":"20 m","v":-9},{"day":4.76,"depth":"20 m","v":-3},{"day":4.77,"depth":"20 m","v":-11},{"day":4.78,"depth":"20 m","v":-6},{"day":4.8,"depth":"20 m","v":-5},{"day":4.82,"depth":"20 m","v":-10},{"day":4.84,"depth":"20 m","v":-7},{"day":4.86,"depth":"20 m","v":-10},{"day":4.88,"depth":"20 m","v":-12},{"day":4.9,"depth":"20 m","v":-14},{"day":4.92,"depth":"20 m","v":-16},{"day":4.94,"depth":"20 m","v":-15},{"day":4.96,"depth":"20 m","v":-17},{"day":4.98,"depth":"20 m","v":-16},{"day":4.99,"depth":"20 m","v":-17},

{"day":1.96,"depth":"40 m","v":31},{"day":1.98,"depth":"40 m","v":33},{"day":2.0,"depth":"40 m","v":33},{"day":2.02,"depth":"40 m","v":38},{"day":2.035,"depth":"40 m","v":40},{"day":2.04,"depth":"40 m","v":50},{"day":2.05,"depth":"40 m","v":44},{"day":2.07,"depth":"40 m","v":38},{"day":2.09,"depth":"40 m","v":30},{"day":2.11,"depth":"40 m","v":21},{"day":2.13,"depth":"40 m","v":10},{"day":2.15,"depth":"40 m","v":0},{"day":2.17,"depth":"40 m","v":-8},{"day":2.19,"depth":"40 m","v":-12},{"day":2.21,"depth":"40 m","v":-15},{"day":2.23,"depth":"40 m","v":-17},{"day":2.25,"depth":"40 m","v":-19},{"day":2.27,"depth":"40 m","v":-18},{"day":2.29,"depth":"40 m","v":-15},{"day":2.31,"depth":"40 m","v":-12},{"day":2.33,"depth":"40 m","v":-8},{"day":2.36,"depth":"40 m","v":0},{"day":2.38,"depth":"40 m","v":8},{"day":2.41,"depth":"40 m","v":14},{"day":2.43,"depth":"40 m","v":24},{"day":2.45,"depth":"40 m","v":34},{"day":2.46,"depth":"40 m","v":38},{"day":2.48,"depth":"40 m","v":35},{"day":2.5,"depth":"40 m","v":33},{"day":2.52,"depth":"40 m","v":31},{"day":2.54,"depth":"40 m","v":29},{"day":2.55,"depth":"40 m","v":31},{"day":2.56,"depth":"40 m","v":36},{"day":2.57,"depth":"40 m","v":30},{"day":2.58,"depth":"40 m","v":33},{"day":2.6,"depth":"40 m","v":22},{"day":2.61,"depth":"40 m","v":19},{"day":2.63,"depth":"40 m","v":10},{"day":2.65,"depth":"40 m","v":2},{"day":2.66,"depth":"40 m","v":-2},{"day":2.67,"depth":"40 m","v":-6},{"day":2.68,"depth":"40 m","v":-8},{"day":2.7,"depth":"40 m","v":-10},{"day":2.72,"depth":"40 m","v":-12},{"day":2.74,"depth":"40 m","v":-11},{"day":2.77,"depth":"40 m","v":-14},{"day":2.79,"depth":"40 m","v":-10},{"day":2.81,"depth":"40 m","v":-7},{"day":2.84,"depth":"40 m","v":0},{"day":2.86,"depth":"40 m","v":10},{"day":2.89,"depth":"40 m","v":21},{"day":2.92,"depth":"40 m","v":30},{"day":2.95,"depth":"40 m","v":36},{"day":2.98,"depth":"40 m","v":42},{"day":3.01,"depth":"40 m","v":46},{"day":3.03,"depth":"40 m","v":44},{"day":3.05,"depth":"40 m","v":40},{"day":3.08,"depth":"40 m","v":33},{"day":3.1,"depth":"40 m","v":28},{"day":3.12,"depth":"40 m","v":24},{"day":3.15,"depth":"40 m","v":19},{"day":3.18,"depth":"40 m","v":10},{"day":3.2,"depth":"40 m","v":5},{"day":3.22,"depth":"40 m","v":-2},{"day":3.24,"depth":"40 m","v":-5},{"day":3.26,"depth":"40 m","v":-7},{"day":3.28,"depth":"40 m","v":-5},{"day":3.31,"depth":"40 m","v":-2},{"day":3.33,"depth":"40 m","v":2},{"day":3.35,"depth":"40 m","v":5},{"day":3.37,"depth":"40 m","v":8},{"day":3.39,"depth":"40 m","v":18},{"day":3.42,"depth":"40 m","v":33},{"day":3.44,"depth":"40 m","v":38},{"day":3.47,"depth":"40 m","v":45},{"day":3.5,"depth":"40 m","v":48},{"day":3.53,"depth":"40 m","v":47},{"day":3.56,"depth":"40 m","v":45},{"day":3.58,"depth":"40 m","v":43},{"day":3.61,"depth":"40 m","v":38},{"day":3.64,"depth":"40 m","v":33},{"day":3.66,"depth":"40 m","v":29},{"day":3.69,"depth":"40 m","v":22},{"day":3.72,"depth":"40 m","v":16},{"day":3.74,"depth":"40 m","v":12},{"day":3.77,"depth":"40 m","v":10},{"day":3.8,"depth":"40 m","v":11},{"day":3.83,"depth":"40 m","v":12},{"day":3.86,"depth":"40 m","v":16},{"day":3.88,"depth":"40 m","v":20},{"day":3.9,"depth":"40 m","v":24},{"day":3.92,"depth":"40 m","v":30},{"day":3.93,"depth":"40 m","v":45},{"day":3.95,"depth":"40 m","v":46},{"day":3.98,"depth":"40 m","v":48},{"day":4.01,"depth":"40 m","v":47},{"day":4.03,"depth":"40 m","v":49},{"day":4.05,"depth":"40 m","v":50},{"day":4.07,"depth":"40 m","v":46},{"day":4.09,"depth":"40 m","v":47},{"day":4.12,"depth":"40 m","v":45},{"day":4.14,"depth":"40 m","v":40},{"day":4.17,"depth":"40 m","v":34},{"day":4.2,"depth":"40 m","v":29},{"day":4.23,"depth":"40 m","v":21},{"day":4.26,"depth":"40 m","v":14},{"day":4.29,"depth":"40 m","v":6},{"day":4.31,"depth":"40 m","v":0},{"day":4.32,"depth":"40 m","v":-3},{"day":4.33,"depth":"40 m","v":2},{"day":4.35,"depth":"40 m","v":5},{"day":4.38,"depth":"40 m","v":7},{"day":4.4,"depth":"40 m","v":12},{"day":4.42,"depth":"40 m","v":15},{"day":4.44,"depth":"40 m","v":18},{"day":4.46,"depth":"40 m","v":22},{"day":4.47,"depth":"40 m","v":14},{"day":4.48,"depth":"40 m","v":24},{"day":4.5,"depth":"40 m","v":14},{"day":4.52,"depth":"40 m","v":18},{"day":4.55,"depth":"40 m","v":25},{"day":4.57,"depth":"40 m","v":30},{"day":4.59,"depth":"40 m","v":33},{"day":4.61,"depth":"40 m","v":31},{"day":4.63,"depth":"40 m","v":28},{"day":4.65,"depth":"40 m","v":26},{"day":4.67,"depth":"40 m","v":22},{"day":4.69,"depth":"40 m","v":18},{"day":4.71,"depth":"40 m","v":14},{"day":4.72,"depth":"40 m","v":2},{"day":4.73,"depth":"40 m","v":10},{"day":4.74,"depth":"40 m","v":-3},{"day":4.75,"depth":"40 m","v":12},{"day":4.76,"depth":"40 m","v":4},{"day":4.78,"depth":"40 m","v":8},{"day":4.8,"depth":"40 m","v":5},{"day":4.82,"depth":"40 m","v":2},{"day":4.84,"depth":"40 m","v":0},{"day":4.86,"depth":"40 m","v":4},{"day":4.88,"depth":"40 m","v":-2},{"day":4.9,"depth":"40 m","v":2},{"day":4.92,"depth":"40 m","v":5},{"day":4.94,"depth":"40 m","v":2},{"day":4.96,"depth":"40 m","v":7},{"day":4.98,"depth":"40 m","v":5},{"day":4.995,"depth":"40 m","v":19},

{"day":1.96,"depth":"67 m","v":25},{"day":1.98,"depth":"67 m","v":22},{"day":2.0,"depth":"67 m","v":24},{"day":2.01,"depth":"67 m","v":30},{"day":2.02,"depth":"67 m","v":28},{"day":2.03,"depth":"67 m","v":33},{"day":2.05,"depth":"67 m","v":30},{"day":2.07,"depth":"67 m","v":19},{"day":2.09,"depth":"67 m","v":10},{"day":2.11,"depth":"67 m","v":0},{"day":2.13,"depth":"67 m","v":-8},{"day":2.15,"depth":"67 m","v":-14},{"day":2.18,"depth":"67 m","v":-20},{"day":2.2,"depth":"67 m","v":-25},{"day":2.22,"depth":"67 m","v":-22},{"day":2.24,"depth":"67 m","v":-19},{"day":2.27,"depth":"67 m","v":-19},{"day":2.3,"depth":"67 m","v":-19},{"day":2.31,"depth":"67 m","v":-10},{"day":2.32,"depth":"67 m","v":-5},{"day":2.33,"depth":"67 m","v":-2},{"day":2.34,"depth":"67 m","v":3},{"day":2.35,"depth":"67 m","v":3},{"day":2.37,"depth":"67 m","v":15},{"day":2.39,"depth":"67 m","v":20},{"day":2.41,"depth":"67 m","v":25},{"day":2.42,"depth":"67 m","v":22},{"day":2.44,"depth":"67 m","v":19},{"day":2.47,"depth":"67 m","v":20},{"day":2.5,"depth":"67 m","v":21},{"day":2.52,"depth":"67 m","v":22},{"day":2.54,"depth":"67 m","v":20},{"day":2.555,"depth":"67 m","v":28},{"day":2.56,"depth":"67 m","v":16},{"day":2.58,"depth":"67 m","v":19},{"day":2.6,"depth":"67 m","v":14},{"day":2.62,"depth":"67 m","v":6},{"day":2.64,"depth":"67 m","v":3},{"day":2.66,"depth":"67 m","v":0},{"day":2.69,"depth":"67 m","v":-3},{"day":2.71,"depth":"67 m","v":-7},{"day":2.73,"depth":"67 m","v":-11},{"day":2.75,"depth":"67 m","v":-8},{"day":2.77,"depth":"67 m","v":-5},{"day":2.79,"depth":"67 m","v":-1},{"day":2.81,"depth":"67 m","v":3},{"day":2.83,"depth":"67 m","v":10},{"day":2.85,"depth":"67 m","v":18},{"day":2.87,"depth":"67 m","v":25},{"day":2.89,"depth":"67 m","v":30},{"day":2.905,"depth":"67 m","v":38},{"day":2.92,"depth":"67 m","v":36},{"day":2.925,"depth":"67 m","v":3},{"day":2.94,"depth":"67 m","v":2},{"day":2.96,"depth":"67 m","v":-3},{"day":2.98,"depth":"67 m","v":2},{"day":3.0,"depth":"67 m","v":1},{"day":3.02,"depth":"67 m","v":4},{"day":3.03,"depth":"67 m","v":6},{"day":3.05,"depth":"67 m","v":-3},{"day":3.07,"depth":"67 m","v":-8},{"day":3.09,"depth":"67 m","v":-17},{"day":3.1,"depth":"67 m","v":0},{"day":3.105,"depth":"67 m","v":19},{"day":3.12,"depth":"67 m","v":17},{"day":3.13,"depth":"67 m","v":19},{"day":3.15,"depth":"67 m","v":8},{"day":3.16,"depth":"67 m","v":14},{"day":3.18,"depth":"67 m","v":6},{"day":3.2,"depth":"67 m","v":5},{"day":3.22,"depth":"67 m","v":6},{"day":3.24,"depth":"67 m","v":5},{"day":3.26,"depth":"67 m","v":7},{"day":3.28,"depth":"67 m","v":6},{"day":3.31,"depth":"67 m","v":8},{"day":3.33,"depth":"67 m","v":12},{"day":3.35,"depth":"67 m","v":19},{"day":3.36,"depth":"67 m","v":19},{"day":3.375,"depth":"67 m","v":3},{"day":3.38,"depth":"67 m","v":3},{"day":3.39,"depth":"67 m","v":14},{"day":3.42,"depth":"67 m","v":15},{"day":3.46,"depth":"67 m","v":16},{"day":3.5,"depth":"67 m","v":16},{"day":3.54,"depth":"67 m","v":15},{"day":3.57,"depth":"67 m","v":10},{"day":3.58,"depth":"67 m","v":3},{"day":3.585,"depth":"67 m","v":19},{"day":3.6,"depth":"67 m","v":22},{"day":3.63,"depth":"67 m","v":20},{"day":3.66,"depth":"67 m","v":16},{"day":3.69,"depth":"67 m","v":9},{"day":3.71,"depth":"67 m","v":5},{"day":3.73,"depth":"67 m","v":-3},{"day":3.75,"depth":"67 m","v":-3},{"day":3.77,"depth":"67 m","v":-1},{"day":3.8,"depth":"67 m","v":4},{"day":3.83,"depth":"67 m","v":12},{"day":3.86,"depth":"67 m","v":18},{"day":3.89,"depth":"67 m","v":23},{"day":3.9,"depth":"67 m","v":22},{"day":3.905,"depth":"67 m","v":3},{"day":3.93,"depth":"67 m","v":4},{"day":3.96,"depth":"67 m","v":6},{"day":3.99,"depth":"67 m","v":5},{"day":4.02,"depth":"67 m","v":6},{"day":4.05,"depth":"67 m","v":4},{"day":4.08,"depth":"67 m","v":3},{"day":4.09,"depth":"67 m","v":22},{"day":4.12,"depth":"67 m","v":19},{"day":4.15,"depth":"67 m","v":17},{"day":4.18,"depth":"67 m","v":13},{"day":4.21,"depth":"67 m","v":6},{"day":4.24,"depth":"67 m","v":3},{"day":4.27,"depth":"67 m","v":3},{"day":4.3,"depth":"67 m","v":2},{"day":4.305,"depth":"67 m","v":15},{"day":4.33,"depth":"67 m","v":17},{"day":4.35,"depth":"67 m","v":19},{"day":4.37,"depth":"67 m","v":18},{"day":4.38,"depth":"67 m","v":25},{"day":4.4,"depth":"67 m","v":26},{"day":4.415,"depth":"67 m","v":36},{"day":4.43,"depth":"67 m","v":34},{"day":4.45,"depth":"67 m","v":33},{"day":4.46,"depth":"67 m","v":34},{"day":4.47,"depth":"67 m","v":14},{"day":4.48,"depth":"67 m","v":10},{"day":4.49,"depth":"67 m","v":7},{"day":4.51,"depth":"67 m","v":4},{"day":4.53,"depth":"67 m","v":2},{"day":4.55,"depth":"67 m","v":3},{"day":4.57,"depth":"67 m","v":-2},{"day":4.59,"depth":"67 m","v":-7},{"day":4.61,"depth":"67 m","v":-6},{"day":4.63,"depth":"67 m","v":-9},{"day":4.65,"depth":"67 m","v":-9},{"day":4.67,"depth":"67 m","v":-11},{"day":4.68,"depth":"67 m","v":-7},{"day":4.685,"depth":"67 m","v":32},{"day":4.69,"depth":"67 m","v":18},{"day":4.695,"depth":"67 m","v":28},{"day":4.7,"depth":"67 m","v":22},{"day":4.72,"depth":"67 m","v":24},{"day":4.74,"depth":"67 m","v":16},{"day":4.76,"depth":"67 m","v":18},{"day":4.77,"depth":"67 m","v":10},{"day":4.78,"depth":"67 m","v":19},{"day":4.79,"depth":"67 m","v":8},{"day":4.8,"depth":"67 m","v":16},{"day":4.82,"depth":"67 m","v":20},{"day":4.84,"depth":"67 m","v":22},{"day":4.86,"depth":"67 m","v":20},{"day":4.88,"depth":"67 m","v":21},{"day":4.9,"depth":"67 m","v":18},{"day":4.92,"depth":"67 m","v":15},{"day":4.94,"depth":"67 m","v":12},{"day":4.96,"depth":"67 m","v":6},{"day":4.97,"depth":"67 m","v":3},{"day":4.98,"depth":"67 m","v":-5},{"day":4.99,"depth":"67 m","v":-6}
]
},
"vconcat": [
{
  "width": 783, "height": 125,
  "view": {"stroke": "black", "strokeWidth": 2},
  "layer": [
    {
      "data": {"name": "isotherms"},
      "mark": {"type": "line", "color": "black", "strokeWidth": 1.5, "clip": true, "invalid": "break-paths-show-domains"},
      "encoding": {
        "x": {"field": "day", "type": "quantitative", "scale": {"domain": [1.91, 5.07], "nice": false, "zero": false}, "axis": null},
        "y": {"field": "h", "type": "quantitative", "scale": {"domain": [0, 70], "nice": false, "zero": false},
              "axis": {"orient": "left", "values": [0, 20, 40, 60], "tickSize": -10, "tickWidth": 1.5, "domain": false, "labelFontSize": 18, "labelPadding": 17, "title": "(m)", "titleFontSize": 20, "titleX": -35, "titleY": 62.5, "titleBaseline": "bottom", "titleAngle": 270}},
        "detail": {"field": "iso", "type": "nominal"}
      }
    },
    {
      "data": {"values": [{}]},
      "mark": {"type": "text", "fontSize": 18},
      "encoding": {
        "x": {"datum": 2.286, "type": "quantitative", "axis": null},
        "y": {"datum": 58.3, "type": "quantitative", "axis": {"orient": "right", "values": [20, 40, 60], "tickSize": -10, "tickWidth": 1.5, "labels": false, "domain": false, "title": null}},
        "text": {"value": "28°C"}
      }
    },
    {
      "data": {"values": [{}]},
      "mark": {"type": "text", "fontSize": 18},
      "encoding": {
        "x": {"datum": 2.262, "type": "quantitative", "axis": null},
        "y": {"datum": 16.4, "type": "quantitative", "axis": null},
        "text": {"value": "26°C"}
      }
    },
    {
      "data": {"values": [{}]},
      "mark": {"type": "text", "fontSize": 18},
      "encoding": {
        "x": {"datum": 3.29, "type": "quantitative", "axis": null},
        "y": {"datum": 25, "type": "quantitative", "axis": null},
        "text": {"value": "25°C"}
      }
    }
  ],
  "resolve": {"axis": {"y": "independent"}}
},
{
  "width": 783, "height": 74,
  "layer": [
    {
      "data": {"values": [{}]},
      "mark": {"type": "rule", "color": "black", "strokeWidth": 2},
      "encoding": {
        "y": {"datum": 0, "type": "quantitative", "scale": {"domain": [-50, 50], "nice": false, "zero": false},
              "axis": {"orient": "left", "values": [-50, 0, 50], "tickSize": -9, "tickWidth": 1.5, "domainWidth": 1.5, "labelFontSize": 18, "labelPadding": 16, "title": null}}
      }
    },
    {
      "data": {"name": "velocity"},
      "transform": [{"filter": "datum.depth === '20 m'"}],
      "mark": {"type": "line", "color": "black", "strokeWidth": 1.5, "clip": true},
      "encoding": {
        "x": {"field": "day", "type": "quantitative", "scale": {"domain": [1.91, 5.07], "nice": false, "zero": false}, "axis": null},
        "y": {"field": "v", "type": "quantitative", "axis": {"orient": "right", "values": [-50, 50], "tickSize": -9, "tickWidth": 1.5, "domainWidth": 1.5, "labels": false, "title": null}}
      }
    },
    {
      "data": {"values": [{}]},
      "mark": {"type": "text", "fontSize": 17},
      "encoding": {
        "x": {"datum": 2.25, "type": "quantitative", "axis": null},
        "y": {"datum": 31.6, "type": "quantitative", "axis": null},
        "text": {"value": "20 m"}
      }
    },
    {
      "data": {"values": [{}]},
      "mark": {"type": "text", "fontSize": 15, "fontWeight": "bold"},
      "encoding": {
        "x": {"datum": 3.984, "type": "quantitative", "axis": null},
        "y": {"datum": -35, "type": "quantitative", "axis": null},
        "text": {"value": "MOORING 5"}
      }
    }
  ],
  "resolve": {"axis": {"y": "independent"}}
},
{
  "width": 783, "height": 75,
  "layer": [
    {
      "data": {"values": [{}]},
      "mark": {"type": "rule", "color": "black", "strokeWidth": 2},
      "encoding": {
        "y": {"datum": 0, "type": "quantitative", "scale": {"domain": [-50, 50], "nice": false, "zero": false},
              "axis": {"orient": "left", "values": [-50, 0, 50], "tickSize": -9, "tickWidth": 1.5, "domainWidth": 1.5, "labelFontSize": 18, "labelPadding": 16, "title": "(cm/s)", "titleFontSize": 22, "titleX": -35, "titleY": 31, "titleBaseline": "bottom", "titleAngle": 270}}
      }
    },
    {
      "data": {"name": "velocity"},
      "transform": [{"filter": "datum.depth === '40 m'"}],
      "mark": {"type": "line", "color": "black", "strokeWidth": 1.5, "clip": true},
      "encoding": {
        "x": {"field": "day", "type": "quantitative", "scale": {"domain": [1.91, 5.07], "nice": false, "zero": false}, "axis": null},
        "y": {"field": "v", "type": "quantitative", "axis": {"orient": "right", "values": [-50, 50], "tickSize": -9, "tickWidth": 1.5, "domainWidth": 1.5, "labels": false, "title": null}}
      }
    },
    {
      "data": {"values": [{}]},
      "mark": {"type": "text", "fontSize": 17},
      "encoding": {
        "x": {"datum": 2.25, "type": "quantitative", "axis": null},
        "y": {"datum": 39.6, "type": "quantitative", "axis": null},
        "text": {"value": "40 m"}
      }
    }
  ],
  "resolve": {"axis": {"y": "independent"}}
},
{
  "width": 783, "height": 71,
  "layer": [
    {
      "data": {"values": [{}]},
      "mark": {"type": "rule", "color": "black", "strokeWidth": 2},
      "encoding": {
        "y": {"datum": 0, "type": "quantitative", "scale": {"domain": [-50, 50], "nice": false, "zero": false},
              "axis": {"orient": "left", "values": [-50, 0, 50], "tickSize": -9, "tickWidth": 1.5, "domainWidth": 1.5, "labelFontSize": 18, "labelPadding": 16, "title": null}}
      }
    },
    {
      "data": {"name": "velocity"},
      "transform": [{"filter": "datum.depth === '67 m'"}],
      "mark": {"type": "line", "color": "black", "strokeWidth": 1.5, "clip": true},
      "encoding": {
        "x": {"field": "day", "type": "quantitative", "scale": {"domain": [1.91, 5.07], "nice": false, "zero": false},
              "axis": {"orient": "bottom", "offset": 34, "values": [2, 2.5, 3, 3.5, 4, 4.5, 5], "labelExpr": "datum.value % 1 === 0 ? format(datum.value, 'd') : ''", "tickSize": 9, "tickWidth": 1.5, "domainWidth": 2, "labelFontSize": 19, "labelPadding": 3, "labelFlush": false, "labelOverlap": false, "title": "MARCH", "titleFontSize": 18, "titleX": 400, "titleY": 13, "titleBaseline": "top", "titleAlign": "center"}},
        "y": {"field": "v", "type": "quantitative", "axis": {"orient": "right", "values": [-50, 50], "tickSize": -9, "tickWidth": 1.5, "domainWidth": 1.5, "labels": false, "title": null}}
      }
    },
    {
      "data": {"values": [{}]},
      "mark": {"type": "text", "fontSize": 17},
      "encoding": {
        "x": {"datum": 2.245, "type": "quantitative",
              "axis": {"orient": "bottom", "offset": 34, "values": [1.9167,1.9583,2,2.0417,2.0833,2.125,2.1667,2.2083,2.25,2.2917,2.3333,2.375,2.4167,2.4583,2.5,2.5417,2.5833,2.625,2.6667,2.7083,2.75,2.7917,2.8333,2.875,2.9167,2.9583,3,3.0417,3.0833,3.125,3.1667,3.2083,3.25,3.2917,3.3333,3.375,3.4167,3.4583,3.5,3.5417,3.5833,3.625,3.6667,3.7083,3.75,3.7917,3.8333,3.875,3.9167,3.9583,4,4.0417,4.0833,4.125,4.1667,4.2083,4.25,4.2917,4.3333,4.375,4.4167,4.4583,4.5,4.5417,4.5833,4.625,4.6667,4.7083,4.75,4.7917,4.8333,4.875,4.9167,4.9583,5,5.0417], "labels": false, "domain": false, "tickSize": 4, "tickWidth": 1, "title": null}},
        "y": {"datum": 35.8, "type": "quantitative", "axis": null},
        "text": {"value": "67 m"}
      }
    }
  ],
  "resolve": {"axis": {"x": "independent", "y": "independent"}}
}
],
"spacing": 20,
"bounds": "flush"
}
